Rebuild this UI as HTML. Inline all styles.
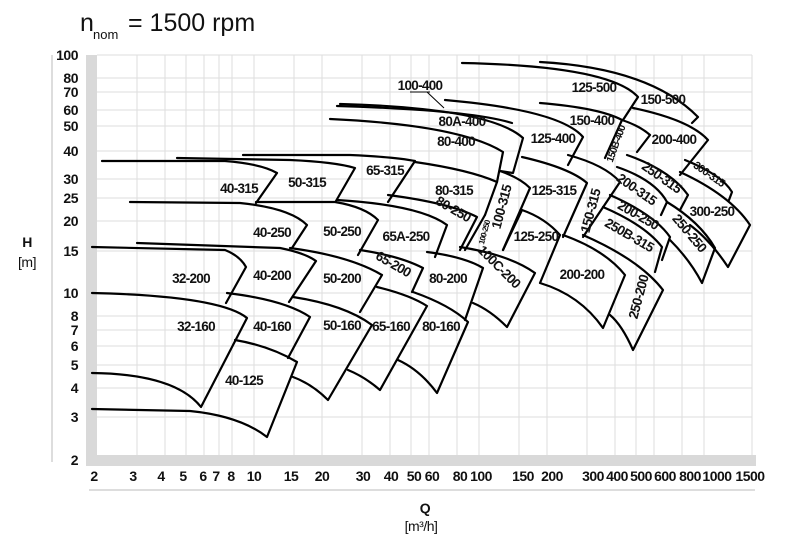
<!DOCTYPE html>
<html><head><meta charset="utf-8"><style>
html,body{margin:0;padding:0;background:#fff;}
svg{display:block;}
text{font-family:"Liberation Sans",Arial,sans-serif;}
.t{font-size:13.5px;font-weight:bold;fill:#111;letter-spacing:-0.7px;}
.ax{font-size:14px;font-weight:bold;fill:#111;letter-spacing:-0.5px;}
.g{stroke:#dedede;stroke-width:1;}
.c{fill:none;stroke:#000;stroke-width:2.2;stroke-linejoin:round;stroke-linecap:round;}
</style></head><body>
<svg width="800" height="542" viewBox="0 0 800 542" xmlns="http://www.w3.org/2000/svg">
<text x="80" y="31" style="font-size:25px;fill:#111">n</text>
<text x="93" y="39" style="font-size:13px;fill:#111">nom</text>
<text x="128" y="31" style="font-size:25px;fill:#111">= 1500 rpm</text>

<line x1="52" y1="55" x2="52" y2="462" stroke="#ddd" stroke-width="2"/>
<line x1="89" y1="490" x2="755" y2="490" stroke="#ddd" stroke-width="2"/>
<rect x="86" y="55" width="11" height="411" fill="#d9d9d9"/>
<rect x="86" y="455" width="670" height="11" fill="#d9d9d9"/>

<g class="g">
<line x1="97" y1="55" x2="752" y2="55"/><line x1="97" y1="78" x2="752" y2="78"/><line x1="97" y1="92" x2="752" y2="92"/>
<line x1="97" y1="110" x2="752" y2="110"/><line x1="97" y1="126" x2="752" y2="126"/><line x1="97" y1="151" x2="752" y2="151"/>
<line x1="97" y1="179" x2="752" y2="179"/><line x1="97" y1="198" x2="752" y2="198"/><line x1="97" y1="221" x2="752" y2="221"/>
<line x1="97" y1="251" x2="752" y2="251"/><line x1="97" y1="293" x2="752" y2="293"/><line x1="97" y1="316" x2="752" y2="316"/>
<line x1="97" y1="330" x2="752" y2="330"/><line x1="97" y1="346" x2="752" y2="346"/><line x1="97" y1="365" x2="752" y2="365"/>
<line x1="97" y1="388" x2="752" y2="388"/><line x1="97" y1="417" x2="752" y2="417"/>
<line x1="137" y1="55" x2="137" y2="455"/><line x1="165" y1="55" x2="165" y2="455"/><line x1="186" y1="55" x2="186" y2="455"/>
<line x1="204" y1="55" x2="204" y2="455"/><line x1="219" y1="55" x2="219" y2="455"/><line x1="232" y1="55" x2="232" y2="455"/>
<line x1="254" y1="55" x2="254" y2="455"/><line x1="294" y1="55" x2="294" y2="455"/><line x1="322" y1="55" x2="322" y2="455"/>
<line x1="362" y1="55" x2="362" y2="455"/><line x1="390" y1="55" x2="390" y2="455"/><line x1="411" y1="55" x2="411" y2="455"/>
<line x1="429" y1="55" x2="429" y2="455"/><line x1="457" y1="55" x2="457" y2="455"/><line x1="479" y1="55" x2="479" y2="455"/>
<line x1="519" y1="55" x2="519" y2="455"/><line x1="547" y1="55" x2="547" y2="455"/><line x1="587" y1="55" x2="587" y2="455"/>
<line x1="615" y1="55" x2="615" y2="455"/><line x1="636" y1="55" x2="636" y2="455"/><line x1="654" y1="55" x2="654" y2="455"/>
<line x1="682" y1="55" x2="682" y2="455"/><line x1="704" y1="55" x2="704" y2="455"/><line x1="752" y1="55" x2="752" y2="455"/>
</g>

<g class="ax" text-anchor="end">
<text x="78" y="60">100</text><text x="78" y="83">80</text><text x="78" y="97">70</text><text x="78" y="115">60</text>
<text x="78" y="131">50</text><text x="78" y="156">40</text><text x="78" y="184">30</text><text x="78" y="203">25</text>
<text x="78" y="226">20</text><text x="78" y="256">15</text><text x="78" y="298">10</text><text x="78" y="321">8</text>
<text x="78" y="335">7</text><text x="78" y="351">6</text><text x="78" y="370">5</text><text x="78" y="393">4</text>
<text x="78" y="422">3</text><text x="78" y="465">2</text>
</g>
<text x="27" y="247" class="ax" text-anchor="middle">H</text>
<text x="27" y="267" class="ax" text-anchor="middle" style="font-weight:normal">[m]</text>

<g class="ax" text-anchor="middle">
<text x="94" y="481">2</text><text x="133" y="481">3</text><text x="161" y="481">4</text><text x="183" y="481">5</text>
<text x="203" y="481">6</text><text x="216" y="481">7</text><text x="231" y="481">8</text><text x="254" y="481">10</text>
<text x="291" y="481">15</text><text x="322" y="481">20</text><text x="363" y="481">30</text><text x="391" y="481">40</text>
<text x="414" y="481">50</text><text x="432" y="481">60</text><text x="460" y="481">80</text><text x="481" y="481">100</text>
<text x="523" y="481">150</text><text x="552" y="481">200</text><text x="593" y="481">300</text><text x="617" y="481">400</text>
<text x="641" y="481">500</text><text x="665" y="481">600</text><text x="690" y="481">800</text><text x="717" y="481">1000</text>
<text x="750" y="481">1500</text>
</g>
<text x="425" y="513" class="ax" text-anchor="middle">Q</text>
<text x="421" y="531" class="ax" text-anchor="middle" style="font-weight:normal">[m³/h]</text>

<g class="c">
<path d="M92,409 L190,411 Q240,416 267,437 L297,362 Q270,346 235,340"/>
<path d="M92,373 Q175,374 201,407 L247,318 Q220,296 92,293"/>
<path d="M227,293 Q285,300 310,317 L288,358"/>
<path d="M293,297 Q345,305 372,325 L328,400 Q312,384 293,377"/>
<path d="M377,287 Q410,295 427,306 L380,390 Q365,377 348,370"/>
<path d="M413,292 Q450,305 468,322 L437,393 Q420,370 398,360"/>
<path d="M92,247 L225,250 Q240,256 246,267 L226,303"/>
<path d="M137,243 L280,248 Q305,253 316,261 L289,302"/>
<path d="M290,248 Q350,256 382,275 L360,312"/>
<path d="M360,250 Q400,256 423,268 L412,292"/>
<path d="M427,252 Q465,257 483,268 L465,320"/>
<path d="M460,247 Q510,255 535,273 L507,327 Q490,310 473,303"/>
<path d="M563,235 Q605,250 625,275 L603,328 Q580,295 540,283 L560,235 Q545,218 522,210 L503,250"/>
<path d="M583,235 Q640,260 663,290 L633,350 Q622,325 610,315"/>
<path d="M130,202 L240,203 Q290,208 307,225 L292,248"/>
<path d="M256,202 L335,202 Q365,207 378,220 L358,255"/>
<path d="M337,200 Q420,205 447,225 L435,257"/>
<path d="M388,195 Q450,203 477,217 L460,250"/>
<path d="M485,215 L465,250"/>
<path d="M610,195 Q655,215 670,237 L662,260"/>
<path d="M603,207 Q645,225 662,247 L655,272"/>
<path d="M667,202 Q700,222 715,248 L702,283 Q690,260 670,240"/>
<path d="M680,172 Q730,195 750,225 L728,267 Q710,240 690,225"/>
<path d="M102,161 L225,161 Q262,164 277,173 L256,203"/>
<path d="M177,158 L290,160 Q335,162 355,168 L336,201"/>
<path d="M243,155 L350,155 Q395,157 415,161 L388,202"/>
<path d="M415,162 Q470,170 497,182"/>
<path d="M500,171 Q520,178 530,188 L503,250"/>
<path d="M497,182 L485,215"/>
<path d="M522,157 Q570,168 587,183 L563,237"/>
<path d="M568,155 Q605,165 620,182 L583,237"/>
<path d="M617,167 Q655,180 667,202 L661,215"/>
<path d="M627,155 Q670,170 688,195 L680,210"/>
<path d="M685,160 Q722,175 732,192 L729,200"/>
<path d="M330,119 Q460,125 503,152 L497,182"/>
<path d="M337,106 Q470,110 512,123"/>
<path d="M340,104 Q490,108 523,138 L513,173 L500,171"/>
<path d="M445,100 Q560,110 583,137 L568,165"/>
<path d="M540,103 Q600,108 622,120 L605,158"/>
<path d="M622,120 Q640,126 650,135 L637,152"/>
<path d="M633,108 Q690,120 708,140 L680,175"/>
<path d="M462,63 Q610,66 638,97 L623,120"/>
<path d="M540,62 Q650,68 698,117 L692,123"/>
</g>
<line x1="427" y1="92" x2="444" y2="108" stroke="#000" stroke-width="1"/>
<line x1="410" y1="92" x2="430" y2="92" stroke="#000" stroke-width="1"/>

<g class="t" text-anchor="middle">
<text x="244" y="385">40-125</text>
<text x="196" y="331">32-160</text>
<text x="272" y="331">40-160</text>
<text x="342" y="330">50-160</text>
<text x="391" y="331">65-160</text>
<text x="441" y="331">80-160</text>
<text x="191" y="283">32-200</text>
<text x="272" y="280">40-200</text>
<text x="342" y="283">50-200</text>
<text x="448" y="283">80-200</text>
<text x="582" y="279">200-200</text>
<text x="272" y="237">40-250</text>
<text x="342" y="236">50-250</text>
<text x="406" y="241">65A-250</text>
<text x="536" y="241">125-250</text>
<text x="239" y="193">40-315</text>
<text x="307" y="187">50-315</text>
<text x="385" y="175">65-315</text>
<text x="454" y="195">80-315</text>
<text x="554" y="195">125-315</text>
<text x="456" y="146">80-400</text>
<text x="462" y="126">80A-400</text>
<text x="420" y="90">100-400</text>
<text x="553" y="143">125-400</text>
<text x="592" y="125">150-400</text>
<text x="594" y="92">125-500</text>
<text x="663" y="104">150-500</text>
<text x="674" y="144">200-400</text>
<text x="712" y="216">300-250</text>
</g>
<g class="t" text-anchor="middle">
<text transform="translate(506,208) rotate(-75)">100-315</text>
<text transform="translate(487,233) rotate(-75)" style="font-size:8px">100-250</text>
<text transform="translate(595,212) rotate(-75)">150-315</text>
<text transform="translate(619,145) rotate(-70)" style="font-size:10px">150B-400</text>
<text transform="translate(643,298) rotate(-75)">250-200</text>
<text transform="translate(496,270) rotate(45)">100C-200</text>
<text transform="translate(391,268) rotate(30)">65-200</text>
<text transform="translate(451,213) rotate(30)">80-250</text>
<text transform="translate(659,181) rotate(35)">250-315</text>
<text transform="translate(634,193) rotate(35)">200-315</text>
<text transform="translate(636,219) rotate(30)">200-250</text>
<text transform="translate(627,239) rotate(30)">250B-315</text>
<text transform="translate(686,236) rotate(50)">250-250</text>
<text transform="translate(707,177) rotate(35)" style="font-size:11px">300-315</text>
</g>
</svg>
</body></html>
